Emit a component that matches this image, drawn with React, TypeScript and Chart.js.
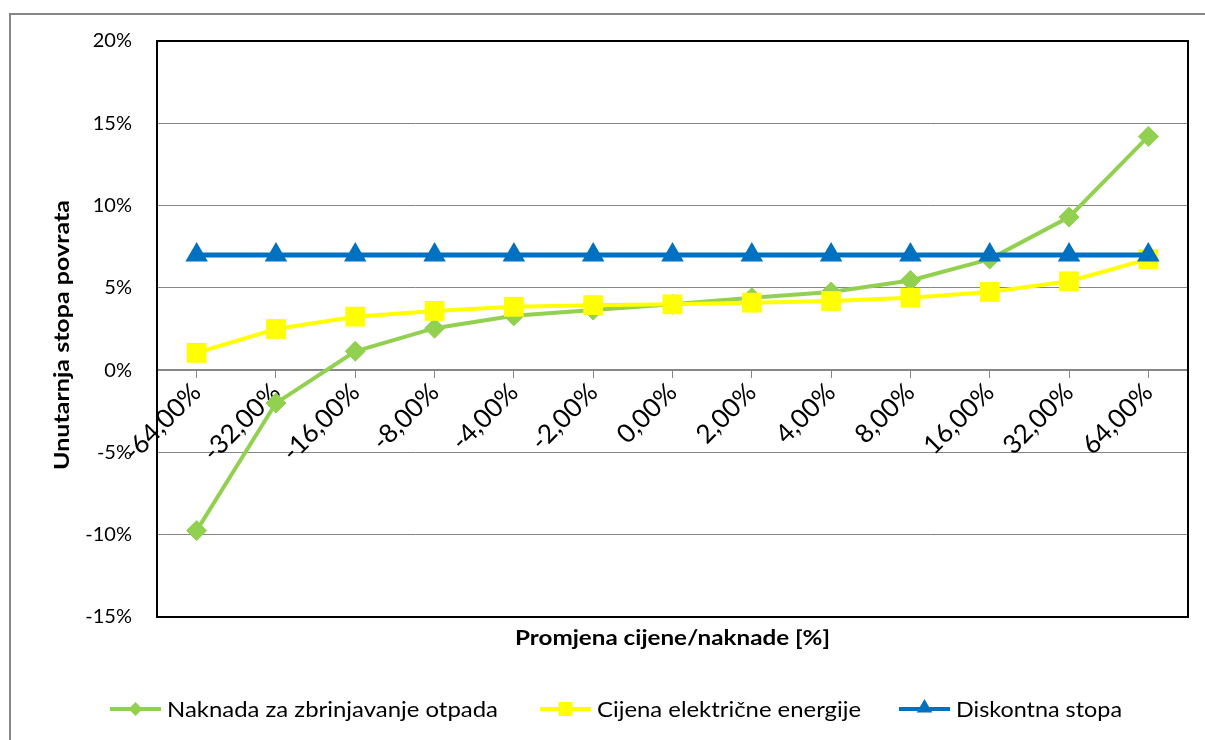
import React, { useEffect, useRef } from 'react';
import { Chart, registerables } from 'chart.js';

Chart.register(...registerables);

const categories = ['-64,00%', '-32,00%', '-16,00%', '-8,00%', '-4,00%', '-2,00%', '0,00%', '2,00%', '4,00%', '8,00%', '16,00%', '32,00%', '64,00%'];
const naknadaOtpada = [-9.75, -2.0, 1.15, 2.55, 3.3, 3.65, 4.0, 4.4, 4.75, 5.45, 6.75, 9.3, 14.2];
const cijenaEnergije = [1.05, 2.5, 3.25, 3.6, 3.85, 3.95, 4.0, 4.1, 4.2, 4.4, 4.75, 5.4, 6.75];
const diskontnaStopa = [7, 7, 7, 7, 7, 7, 7, 7, 7, 7, 7, 7, 7];
const yMin = -15;
const yMax = 20;
const yStep = 5;

const seriesNames = ['Naknada za zbrinjavanje otpada', 'Cijena električne energije', 'Diskontna stopa'];
const xTitle = 'Promjena cijene/naknade [%]';
const yTitle = 'Unutarnja stopa povrata';

const GREEN = '#92D050';
const YELLOW = '#FFFF00';
const BLUE = '#0070C0';
const FONT = 'Lato, "DejaVu Sans", sans-serif';

function drawMarker(ctx: CanvasRenderingContext2D, style: string, x: number, y: number, r: number, color: string) {
  ctx.save();
  ctx.fillStyle = color;
  ctx.beginPath();
  if (style === 'rectRot') {
    ctx.moveTo(x, y - r);
    ctx.lineTo(x + r, y);
    ctx.lineTo(x, y + r);
    ctx.lineTo(x - r, y);
    ctx.closePath();
  } else if (style === 'rect') {
    ctx.rect(x - r, y - r, 2 * r, 2 * r);
  } else {
    ctx.moveTo(x, y - r);
    ctx.lineTo(x + r * 0.866, y + r / 2);
    ctx.lineTo(x - r * 0.866, y + r / 2);
    ctx.closePath();
  }
  ctx.fill();
  ctx.restore();
}

function fillTextWidth(ctx: CanvasRenderingContext2D, text: string, x: number, y: number, width: number, align: 'left' | 'center') {
  const w = ctx.measureText(text).width;
  const k = width / w;
  ctx.save();
  ctx.translate(x, y);
  ctx.scale(k, 1);
  ctx.textAlign = align;
  ctx.fillText(text, 0, 0);
  ctx.restore();
}

const decorPlugin = {
  id: 'decor',
  beforeDraw(chart: any) {
    const ctx = chart.ctx as CanvasRenderingContext2D;
    ctx.save();
    ctx.fillStyle = '#ffffff';
    ctx.fillRect(0, 0, chart.width, chart.height);
    ctx.strokeStyle = '#868686';
    ctx.lineWidth = 2;
    ctx.strokeRect(10, 14, 1400, 1000);
    ctx.restore();
  },
  afterDraw(chart: any) {
    const ctx = chart.ctx as CanvasRenderingContext2D;
    const a = chart.chartArea;
    ctx.save();
    // plot border
    ctx.strokeStyle = '#000000';
    ctx.lineWidth = 2;
    ctx.strokeRect(a.left, a.top, a.right - a.left, a.bottom - a.top);
    // axis titles
    ctx.fillStyle = '#000000';
    ctx.font = `bold 21px ${FONT}`;
    ctx.textBaseline = 'middle';
    fillTextWidth(ctx, xTitle, (a.left + a.right) / 2, a.bottom + 21, 315, 'center');
    ctx.save();
    ctx.translate(62, (a.top + a.bottom) / 2 + 6);
    ctx.rotate(-Math.PI / 2);
    fillTextWidth(ctx, yTitle, 0, 0, 270, 'center');
    ctx.restore();
    // legend
    const items = [
      { name: seriesNames[0], color: GREEN, style: 'rectRot', r: 7, lx: 110, tw: 331 },
      { name: seriesNames[1], color: YELLOW, style: 'rect', r: 7, lx: 540, tw: 264 },
      { name: seriesNames[2], color: BLUE, style: 'triangle', r: 9, lx: 899, tw: 166 },
    ];
    const ly = 709;
    ctx.font = `21px ${FONT}`;
    for (const it of items) {
      ctx.strokeStyle = it.color;
      ctx.lineWidth = 4;
      ctx.beginPath();
      ctx.moveTo(it.lx, ly);
      ctx.lineTo(it.lx + 51, ly);
      ctx.stroke();
      drawMarker(ctx, it.style, it.lx + 25.5, it.style === 'triangle' ? ly - 1 : ly, it.r, it.color);
      ctx.fillStyle = '#000000';
      fillTextWidth(ctx, it.name, it.lx + 57, ly + 1, it.tw, 'left');
    }
    ctx.restore();
  },
};

export default function App() {
  const ref = useRef<HTMLCanvasElement | null>(null);
  useEffect(() => {
    if (!ref.current) return;
    const chart = new Chart(ref.current, {
      type: 'line',
      data: {
        labels: categories,
        datasets: [
          {
            label: seriesNames[0],
            data: naknadaOtpada,
            borderColor: GREEN,
            backgroundColor: GREEN,
            borderWidth: 4,
            pointStyle: 'rectRot',
            pointRadius: 10,
            pointBorderWidth: 1,
            pointBorderColor: GREEN,
            pointBackgroundColor: GREEN,
            tension: 0,
            order: 2,
          },
          {
            label: seriesNames[1],
            data: cijenaEnergije,
            borderColor: YELLOW,
            backgroundColor: YELLOW,
            borderWidth: 4,
            pointStyle: 'rect',
            pointRadius: 14,
            pointBorderWidth: 0,
            pointBackgroundColor: YELLOW,
            tension: 0,
            order: 1,
          },
          {
            label: seriesNames[2],
            data: diskontnaStopa,
            borderColor: BLUE,
            backgroundColor: BLUE,
            borderWidth: 5,
            pointStyle: 'triangle',
            pointRadius: 13,
            pointBorderWidth: 0,
            pointBackgroundColor: BLUE,
            tension: 0,
            order: 0,
          },
        ],
      },
      options: {
        responsive: false,
        animation: false,
        layout: { padding: { left: 57, right: 17, top: 41, bottom: 123 } },
        plugins: { legend: { display: false }, tooltip: { enabled: false } },
        scales: {
          x: {
            type: 'category',
            offset: true,
            position: { y: 0 } as any,
            grid: { drawOnChartArea: false, offset: false, color: '#868686', tickLength: 7, lineWidth: 1 },
            border: { color: '#868686', width: 2 },
            ticks: {
              autoSkip: false,
              minRotation: 45,
              maxRotation: 45,
              padding: 0,
              color: '#000000',
              font: { family: FONT, size: 26 },
            },
          },
          y: {
            min: yMin,
            max: yMax,
            afterFit: (s: any) => { s.width = 100; },
            grid: { color: '#868686', lineWidth: 1, drawTicks: false },
            border: { color: '#000000', width: 2 },
            ticks: {
              stepSize: yStep,
              padding: 25,
              color: '#000000',
              font: { family: FONT, size: 20 },
              callback: (v: any) => `${v}%`,
            },
          },
        },
      },
      plugins: [decorPlugin],
    });
    return () => chart.destroy();
  }, []);
  return (
    <div style={{ position: 'absolute', left: 0, top: 0, width: 1205, height: 740 }}>
      <canvas ref={ref} width={1205} height={740} style={{ display: 'block' }} />
    </div>
  );
}
